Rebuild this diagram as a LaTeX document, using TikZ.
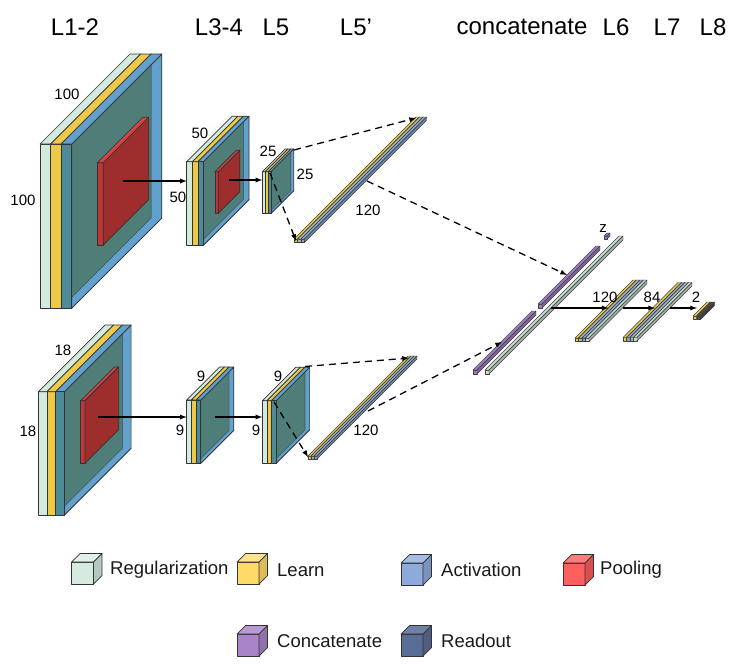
\documentclass[tikz,border=0pt]{standalone}
\usepackage{fontspec}
\setmainfont{Liberation Sans}

\definecolor{regc}{HTML}{D3EADF}
\definecolor{learnc}{HTML}{EEC847}
\definecolor{actc}{HTML}{62A0CE}
\definecolor{actfront}{HTML}{4C8B9A}
\definecolor{tealc}{HTML}{4F7E79}
\definecolor{poolfront}{HTML}{C23535}
\definecolor{poolside}{HTML}{9E2E2E}
\definecolor{pooltop}{HTML}{D04545}
\definecolor{rodg}{HTML}{A9B8B0}
\definecolor{rodb}{HTML}{8AA6CF}
\definecolor{concatc}{HTML}{A07CC0}
\definecolor{longc}{HTML}{C9DCD3}
\definecolor{readc}{HTML}{4A4A4A}
% legend cubes: front, top, side
\definecolor{kregf}{HTML}{D5EBE0}\definecolor{kregt}{HTML}{E1F0E8}\definecolor{kregs}{HTML}{B5C8BF}
\definecolor{klrnf}{HTML}{FFD966}\definecolor{klrnt}{HTML}{FFE28A}\definecolor{klrns}{HTML}{DCBB58}
\definecolor{kactf}{HTML}{8EAADB}\definecolor{kactt}{HTML}{A5BCE3}\definecolor{kacts}{HTML}{7A93BD}
\definecolor{kpolf}{HTML}{FF5F5F}\definecolor{kpolt}{HTML}{FF7A7A}\definecolor{kpols}{HTML}{D94F4F}
\definecolor{kcatf}{HTML}{A884C9}\definecolor{kcatt}{HTML}{B99BD4}\definecolor{kcats}{HTML}{9070AD}
\definecolor{kredf}{HTML}{5A6D96}\definecolor{kredt}{HTML}{6F81A6}\definecolor{kreds}{HTML}{4D5E81}

\tikzset{
  face/.style={draw=black!80,line width=.7pt,line join=round},
  barline/.style={draw=black!75,line width=.4pt,line join=round},
  dim/.style={font=\fontsize{15}{18}\selectfont,inner sep=0pt},
  title/.style={font=\fontsize{24}{28}\selectfont,inner sep=0pt},
  legtext/.style={font=\fontsize{18.5}{22}\selectfont,inner sep=0pt,anchor=west,text=black!90},
  flowline/.style={->,line width=1.3pt},
  dashline/.style={->,line width=1.3pt,dash pattern=on 7pt off 5pt},
}

% x, y, thickness, height, depth, front, top, side
\newcommand{\slab}[8]{%
  \filldraw[face,fill=#6] (#1,#2) rectangle ++(#3,#4);
  \filldraw[face,fill=#7] (#1,#2) -- ++(#5,-#5) -- ++(#3,0) -- ++(-#5,#5) -- cycle;
  \filldraw[face,fill=#8] ({#1+#3},#2) -- ++(#5,-#5) -- ++(0,#4) -- ++(-#5,#5) -- cycle;
}
% x, y, size, depth, colour
\newcommand{\onebar}[5]{\slab{#1}{#2}{#3}{#3}{#4}{#5}{#5}{#5!80!black}}
% x, y, thickness, height, depth
\newcommand{\convblock}[5]{%
  \filldraw[face,fill=regc] (#1,#2) rectangle ++(#3,#4);
  \filldraw[face,fill=regc] (#1,#2) -- ++(#5,-#5) -- ++(#3,0) -- ++(-#5,#5) -- cycle;
  \filldraw[face,fill=learnc] ({#1+#3},#2) rectangle ++(#3,#4);
  \filldraw[face,fill=learnc] ({#1+#3},#2) -- ++(#5,-#5) -- ++(#3,0) -- ++(-#5,#5) -- cycle;
  \filldraw[face,fill=actc] ({#1+2*#3},{#2+#4}) -- ++(#3,0) -- ++(#5,-#5) -- ++(-#3,0) -- cycle;
  \filldraw[face,fill=actc] ({#1+3*#3},#2) -- ++(#5,-#5) -- ++(0,#4) -- ++(-#5,#5) -- cycle;
  \filldraw[face,fill=tealc,draw opacity=.5] ({#1+3*#3},#2) -- ++({#5-#3},{#3-#5}) -- ++(0,{#4-#3}) -- ++({#3-#5},{#5-#3}) -- cycle;
  \filldraw[face,fill=actc] ({#1+2*#3},#2) -- ++(#5,-#5) -- ++(#3,0) -- ++(-#5,#5) -- cycle;
  \filldraw[face,fill=actfront] ({#1+2*#3},#2) rectangle ++(#3,#4);
}

\begin{document}
\begin{tikzpicture}[x=1pt,y=-1pt,>=latex]
  \useasboundingbox (0,0) rectangle (747,664);

  % titles
  \node[title] (tL12) at (75,27) {L1-2};
  \node[title] (tL34) at (219,27) {L3-4};
  \node[title] (tL5) at (276,27) {L5};
  \node[title] (tL5p) at (356,27) {L5’};
  \node[title] (tcat) at (522,27) {concatenate};
  \node[title] (tL6) at (616,27) {L6};
  \node[title] (tL7) at (667,27) {L7};
  \node[title] (tL8) at (713,27) {L8};

  % upper branch
  \convblock{40}{144}{10.6}{164}{90}
  \slab{97.3}{162.7}{6}{82.3}{45.5}{poolfront}{pooltop}{poolside}
  \convblock{186.7}{161.7}{5.6}{83.3}{45.5}
  \slab{215}{171.7}{3.3}{41.6}{21.5}{poolfront}{pooltop}{poolside}
  \convblock{262.3}{171.7}{2.9}{41.6}{22.7}
  \begin{scope}[face/.style={barline}]
    \onebar{294}{239}{3.5}{122}{learnc}
    \onebar{297.5}{239}{3.5}{122}{rodg}
    \onebar{301}{239}{3.5}{122}{rodb}
  \end{scope}

  % lower branch
  \convblock{38.3}{391.7}{8.7}{123.3}{66.7}
  \slab{80.7}{400.7}{4.3}{62.6}{33.7}{poolfront}{pooltop}{poolside}
  \convblock{186.7}{400}{4.7}{63.3}{33}
  \convblock{262.3}{400.7}{4.6}{62.6}{33.5}
  \begin{scope}[face/.style={barline}]
    \onebar{308}{456}{3}{100}{learnc}
    \onebar{311}{456}{3}{100}{rodg}
    \onebar{314}{456}{3}{100}{rodb}
  \end{scope}

  % concatenate and dense layers
  \begin{scope}[face/.style={barline}]
    \onebar{473}{370}{4}{59}{concatc}
    \onebar{538}{304}{4}{58}{concatc}
    \onebar{485}{370}{4}{134}{longc}
    \onebar{604}{236}{3}{3}{concatc}
    \onebar{575}{338}{3.5}{58}{learnc}
    \onebar{578.5}{338}{3.5}{58}{rodg}
    \onebar{582}{338}{3.5}{58}{rodb}
    \onebar{585.5}{338}{3.5}{58}{longc}
    \onebar{623}{337.5}{3.5}{55}{learnc}
    \onebar{626.5}{337.5}{3.5}{55}{rodb}
    \onebar{630}{337.5}{3.5}{55}{rodg}
    \onebar{633.5}{337.5}{3.5}{55}{longc}
    \onebar{693}{316}{3.5}{14}{learnc}
    \onebar{697}{316}{3.5}{14}{readc}
  \end{scope}

  % sizes
  \node[dim] (sA1) at (67,94) {100};
  \node[dim] (sA2) at (23,200) {100};
  \node[dim] (sB1) at (200,133) {50};
  \node[dim] (sB2) at (178,197) {50};
  \node[dim] (sC1) at (268,151) {25};
  \node[dim] (sC2) at (305,174) {25};
  \node[dim] (sR1) at (368,210) {120};
  \node[dim] (sD1) at (63,350) {18};
  \node[dim] (sD2) at (28,431) {18};
  \node[dim] (sE1) at (201,376) {9};
  \node[dim] (sE2) at (180,430) {9};
  \node[dim] (sF1) at (278,376) {9};
  \node[dim] (sF2) at (256,430) {9};
  \node[dim] (sR2) at (366,430) {120};
  \node[dim] (sz) at (603,229) {z};
  \node[dim] (s6) at (605,297) {120};
  \node[dim] (s7) at (652,297) {84};
  \node[dim] (s8) at (696,297) {2};

  % connections
  \coordinate (poolA) at (123,181);  \coordinate (inB) at (186.7,181);
  \coordinate (poolB) at (229,180);  \coordinate (inC) at (262.3,180);
  \coordinate (cTop) at (294,150);   \coordinate (rodTend) at (416,118);
  \coordinate (cFront) at (270,173); \coordinate (rodTstart) at (296,241);
  \coordinate (rodTmid) at (367,181); \coordinate (catU) at (567,275);
  \coordinate (poolD) at (97.5,417); \coordinate (inE) at (186.7,417);
  \coordinate (midE) at (214.5,417); \coordinate (inF) at (262.3,417);
  \coordinate (fTop) at (305,366.5); \coordinate (rodBend) at (409,358);
  \coordinate (fFront) at (274,402); \coordinate (rodBstart) at (308,457);
  \coordinate (rodBmid) at (368,411); \coordinate (catL) at (502,342);
  \coordinate (longmid) at (551,308); \coordinate (inL6) at (608.5,308);
  \coordinate (outL6) at (623,308);  \coordinate (inL7) at (655,308);
  \coordinate (outL7) at (670,308);  \coordinate (inL8) at (697,308);

  \draw[flowline] (poolA) -- (inB);
  \draw[flowline] (poolB) -- (inC);
  \draw[flowline] (poolD) -- (inE);
  \draw[flowline] (midE) -- (inF);
  \draw[dashline] (cTop) -- (rodTend);
  \draw[dashline] (cFront) -- (rodTstart);
  \draw[dashline] (fTop) -- (rodBend);
  \draw[dashline] (fFront) -- (rodBstart);
  \draw[dashline] (rodTmid) -- (catU);
  \draw[dashline] (rodBmid) -- (catL);
  \draw[flowline] (longmid) -- (inL6);
  \draw[flowline] (outL6) -- (inL7);
  \draw[flowline] (outL7) -- (inL8);

  % legend
  \slab{71.5}{562}{22}{22}{8.5}{kregf}{kregt}{kregs}
  \slab{237}{562}{22}{22}{8.5}{klrnf}{klrnt}{klrns}
  \slab{401}{563}{22}{22}{8.5}{kactf}{kactt}{kacts}
  \slab{563}{563}{22}{22}{8.5}{kpolf}{kpolt}{kpols}
  \slab{237}{634}{22}{22}{8.5}{kcatf}{kcatt}{kcats}
  \slab{401}{634}{22}{22}{8.5}{kredf}{kredt}{kreds}
  \node[legtext] (lreg) at (110,570) {Regularization};
  \node[legtext] (llearn) at (277,570) {Learn};
  \node[legtext] (lact) at (441,570) {Activation};
  \node[legtext] (lpool) at (600,570) {Pooling};
  \node[legtext] (lcat) at (277,641) {Concatenate};
  \node[legtext] (lread) at (441,641) {Readout};
\end{tikzpicture}
\end{document}
